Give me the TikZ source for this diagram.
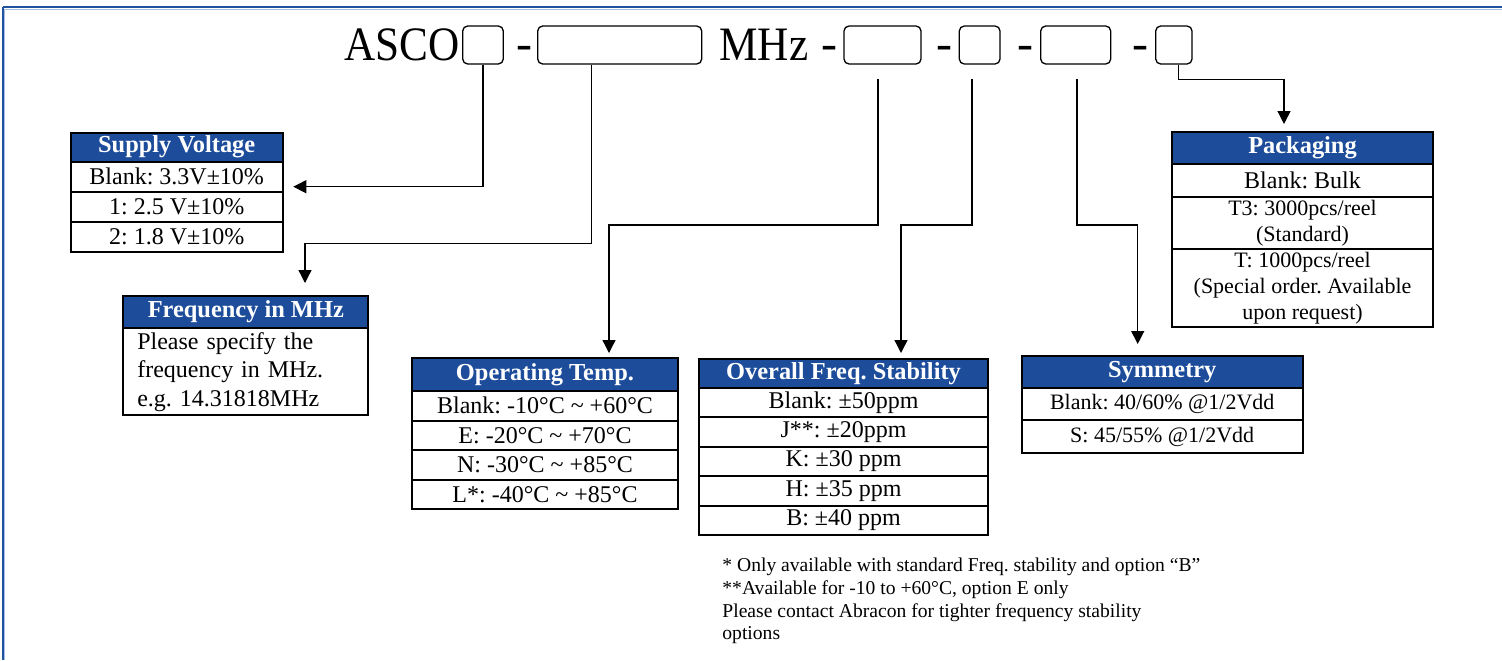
\documentclass[tikz,border=0pt]{standalone}
\usepackage{fontspec}
\setmainfont{Liberation Serif}
\usepackage{xcolor}
\usetikzlibrary{arrows.meta, positioning, calc}
\definecolor{hdrblue}{RGB}{28,76,154}
\definecolor{frameblue}{RGB}{32,82,160}
\definecolor{framelight}{RGB}{165,190,228}
\newcommand{\pnstr}[1]{\scalebox{0.9}[1]{#1}}
\tikzset{
  slot/.style={draw, rounded corners=2.5pt, line width=0.65pt, minimum height=19pt, inner sep=0pt},
  conn/.style={line width=0.65pt, -{Triangle[length=6.5pt,width=6.5pt]}},
  bigtxt/.style={inner sep=0pt, font=\fontsize{24}{26}\selectfont},
  thead/.style={draw=black, line width=1pt, fill=hdrblue, text=white, inner sep=0pt, outer sep=0pt,
    font=\bfseries\fontsize{12.2}{14}\selectfont},
  trow/.style={draw=black, line width=1pt, inner sep=0pt, outer sep=0pt, align=center,
    font=\fontsize{12}{14}\selectfont},
  tsmall/.style={font=\fontsize{11}{13}\selectfont},
}
\frenchspacing
\begin{document}
\begin{tikzpicture}[x=0.5pt, y=-0.5pt]
  \useasboundingbox (0,0) rectangle (1502,660);
  % frame
  \draw[frameblue, line width=1pt] (3,7) -- (1502,7);
  \draw[framelight, line width=0.5pt] (4.5,9) -- (1502,9);
  \draw[frameblue, line width=1pt] (3,6.5) -- (3,660);
  \draw[framelight, line width=0.5pt] (4.5,9) -- (4.5,660);

  % part number
  \node[bigtxt, anchor=base west] (asco) at (344,60.5) {\pnstr{ASCO}};
  \node[bigtxt, anchor=base west] (mhz) at (719,60.5) {\pnstr{MHz}};
  \foreach \x/\n in {524.5/1, 829.5/2, 944/3, 1025/4, 1140/5}
    \node[bigtxt, anchor=base] (d\n) at (\x,59) {-};
  \node[slot, minimum width=20.3pt] (b1) at (483,45) {};
  \node[slot, minimum width=82pt] (b2) at (619.7,45) {};
  \node[slot, minimum width=38.5pt] (b3) at (882.5,45) {};
  \node[slot, minimum width=20.35pt] (b4) at (979.65,45) {};
  \node[slot, minimum width=35pt] (b5) at (1075.7,45) {};
  \node[slot, minimum width=18.15pt] (b6) at (1173.85,45) {};

  % supply voltage
  \node[thead, anchor=north west, minimum width=106pt, minimum height=14.5pt] (sv0) at (70.7,132.7) {Supply Voltage};
  \node[trow, minimum width=106pt, minimum height=15pt, below=0pt of sv0] (sv1) {Blank: 3.3V±10\%};
  \node[trow, minimum width=106pt, minimum height=15pt, below=0pt of sv1] (sv2) {1: 2.5 V±10\%};
  \node[trow, minimum width=106pt, minimum height=15pt, below=0pt of sv2] (sv3) {2: 1.8 V±10\%};

  % frequency
  \node[thead, anchor=north west, minimum width=122.5pt, minimum height=16.3pt] (fq0) at (123.3,295.7) {Frequency in MHz};
  \node[trow, minimum width=122.5pt, minimum height=43.35pt, below=0pt of fq0, align=left,
    text width=108.5pt, inner xsep=7pt, font=\fontsize{12}{14.25}\selectfont] (fq1)
    {Please specify the\\frequency in MHz.\\e.g. 14.31818MHz};

  % operating temp
  \node[thead, anchor=north west, minimum width=133pt, minimum height=16.5pt] (ot0) at (412,358) {Operating Temp.};
  \node[trow, minimum width=133pt, minimum height=14.75pt, below=0pt of ot0] (ot1) {Blank: -10°C \textasciitilde{} +60°C};
  \node[trow, minimum width=133pt, minimum height=14.75pt, below=0pt of ot1] (ot2) {E: -20°C \textasciitilde{} +70°C};
  \node[trow, minimum width=133pt, minimum height=14.75pt, below=0pt of ot2] (ot3) {N: -30°C \textasciitilde{} +85°C};
  \node[trow, minimum width=133pt, minimum height=14.75pt, below=0pt of ot3] (ot4) {L*: -40°C \textasciitilde{} +85°C};

  % overall stability
  \node[thead, anchor=north west, minimum width=144.5pt, minimum height=14.75pt] (os0) at (699,358.5) {Overall Freq. Stability};
  \node[trow, minimum width=144.5pt, minimum height=14.7pt, below=0pt of os0] (os1) {Blank: ±50ppm};
  \node[trow, minimum width=144.5pt, minimum height=14.7pt, below=0pt of os1] (os2) {J**: ±20ppm};
  \node[trow, minimum width=144.5pt, minimum height=14.7pt, below=0pt of os2] (os3) {K: ±30 ppm};
  \node[trow, minimum width=144.5pt, minimum height=14.7pt, below=0pt of os3] (os4) {H: ±35 ppm};
  \node[trow, minimum width=144.5pt, minimum height=14.7pt, below=0pt of os4] (os5) {B: ±40 ppm};

  % symmetry
  \node[thead, anchor=north west, minimum width=140.5pt, minimum height=16pt] (sy0) at (1021.7,355.7) {Symmetry};
  \node[trow, tsmall, minimum width=140.5pt, minimum height=16.25pt, below=0pt of sy0] (sy1) {Blank: 40/60\% @1/2Vdd};
  \node[trow, tsmall, minimum width=140.5pt, minimum height=16.25pt, below=0pt of sy1] (sy2) {S: 45/55\% @1/2Vdd};

  % packaging
  \node[thead, anchor=north west, minimum width=130.8pt, minimum height=16.15pt] (pk0) at (1171.7,131.7) {Packaging};
  \node[trow, minimum width=130.8pt, minimum height=16.35pt, below=0pt of pk0] (pk1) {Blank: Bulk};
  \node[trow, tsmall, minimum width=130.8pt, minimum height=26pt, below=0pt of pk1] (pk2) {T3: 3000pcs/reel\\(Standard)};
  \node[trow, tsmall, minimum width=130.8pt, minimum height=39.15pt, below=0pt of pk2] (pk3) {T: 1000pcs/reel\\(Special order. Available\\upon request)};

  % notes
  \node[anchor=north west, align=left, inner sep=0pt, font=\fontsize{9.8}{11.35}\selectfont] (notes) at (722,557.6)
    {* Only available with standard Freq. stability and option “B”\\
     **Available for -10 to +60°C, option E only\\
     Please contact Abracon for tighter frequency stability\\
     options};

  % connectors
  \coordinate (svtip) at (293.3,186.7);
  \coordinate (fqturn) at (591.7,243.3);
  \coordinate (fqtip) at (305,283);
  \coordinate (otturn) at (878,225);
  \coordinate (ottip) at (609,353);
  \coordinate (osturn) at (972,225);
  \coordinate (ostip) at (901,353);
  \coordinate (syturn) at (1077,225);
  \coordinate (sytip) at (1137.7,344);
  \coordinate (pkturn) at (1178.7,79.3);
  \coordinate (pktip) at (1284,124);
  \draw[conn] (b1.south) |- (svtip);
  \draw[conn] (fqturn |- b2.south) -- (fqturn) -| (fqtip);
  \draw[conn, shorten <=7pt] (otturn |- b3.south) -- (otturn) -| (ottip);
  \draw[conn, shorten <=7pt] (osturn |- b4.south) -- (osturn) -| (ostip);
  \draw[conn, shorten <=7pt] (syturn |- b5.south) -- (syturn) -| (sytip);
  \draw[conn] (pkturn |- b6.south) -- (pkturn) -| (pktip);
\end{tikzpicture}
\end{document}
